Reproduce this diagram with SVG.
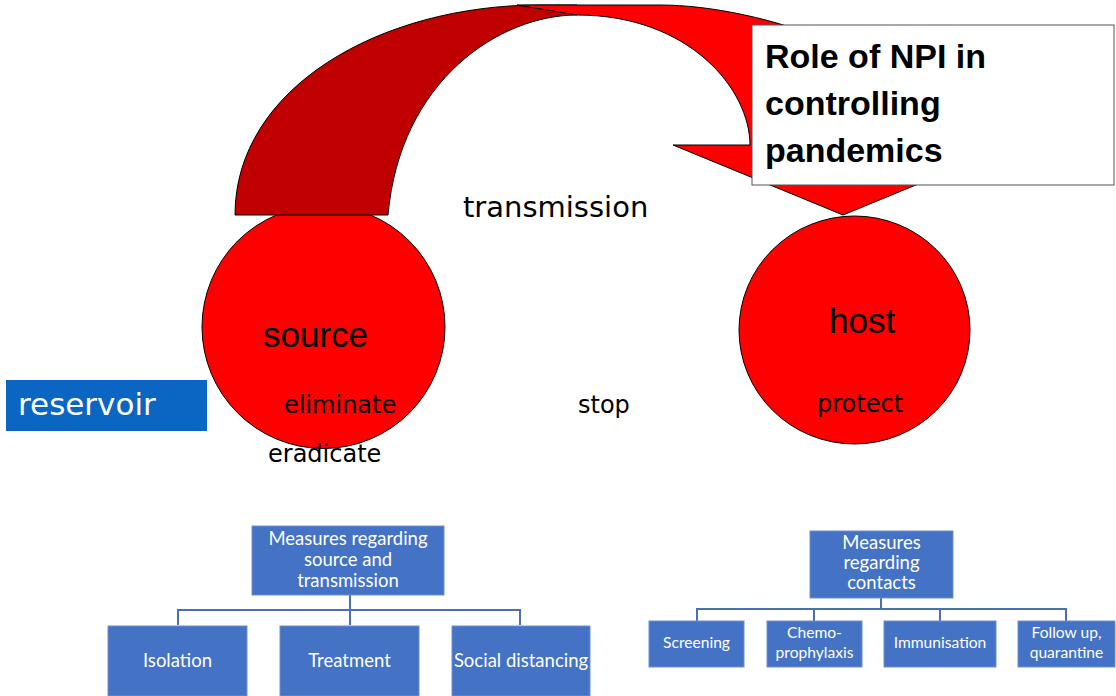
<svg xmlns="http://www.w3.org/2000/svg" width="1116" height="696" viewBox="0 0 1116 696">
<style>
.circ{fill:#FF0000;stroke:#000;stroke-width:1}
.comic{font-family:"DejaVu Sans",sans-serif;font-size:24px;fill:#000}
.big{font-family:"Liberation Sans",Arial,sans-serif;font-size:35px;fill:#000}
.box{fill:#4472C4;stroke:#6F8FCF;stroke-width:1}
.bt{font-family:Lato,"Liberation Sans",sans-serif;fill:#fff;text-anchor:middle}
.conn{fill:none;stroke:#4A6FB5;stroke-width:2}
</style>
<rect width="1116" height="696" fill="#fff"/>
<g id="source">
<circle class="circ" cx="323.5" cy="327" r="121.5"/>
<text class="big" x="263" y="347">source</text>
</g>
<g id="host">
<ellipse class="circ" cx="854.5" cy="330" rx="115.5" ry="114"/>
<text class="big" x="829" y="333">host</text>
</g>
<g id="arrow">
<path d="M235,215 C235,88 380,5 540,5 L577,5 L577,15 C500,15 400,80 388,215 Z" fill="#C00000" stroke="#000" stroke-width="1"/>
<path d="M517,5 L660,5 C760,5 930,60 930,145 L1013,145 L843,215 L673,145 L750,145 C750,90 690,15 577,15 Z" fill="#FF0000" stroke="#000" stroke-width="1"/>
</g>
<g id="title">
<rect x="752" y="25" width="362" height="160" fill="#fff" stroke="#555" stroke-width="1"/>
<text font-family="'Liberation Sans',Arial,sans-serif" font-weight="bold" font-size="34" fill="#000">
<tspan x="765" y="68">Role of NPI in</tspan>
<tspan x="765" y="115">controlling</tspan>
<tspan x="765" y="162">pandemics</tspan>
</text>
</g>
<g id="labels">
<text class="comic" x="463" y="217" style="font-size:29px">transmission</text>
<text class="comic" x="284" y="413">eliminate</text>
<text class="comic" x="268" y="462">eradicate</text>
<text class="comic" x="578" y="413">stop</text>
<text class="comic" x="817" y="412">protect</text>
</g>
<g id="reservoir">
<rect x="6" y="380" width="201" height="51" fill="#0B66C3"/>
<text x="18" y="415" font-family="'DejaVu Sans',sans-serif" font-size="31" fill="#fff">reservoir</text>
</g>
<g id="connectors">
<path class="conn" d="M350,595 V625 M178,625 V610 H520 V625"/>
<path class="conn" d="M881,598 V609 M697,621 V609 H1066 V621 M814,609 V621 M940,609 V621"/>
</g>
<g id="m1">
<rect class="box" x="252" y="526" width="192" height="69"/>
<text class="bt" font-size="18.5"><tspan x="348" y="545">Measures regarding</tspan><tspan x="348" y="566">source and</tspan><tspan x="348" y="587">transmission</tspan></text>
</g>
<g id="isolation"><rect class="box" x="108" y="626" width="139" height="70"/><text class="bt" font-size="18.5" x="177.5" y="667">Isolation</text></g>
<g id="treatment"><rect class="box" x="280" y="626" width="139" height="70"/><text class="bt" font-size="18.5" x="349.5" y="667">Treatment</text></g>
<g id="social"><rect class="box" x="452" y="626" width="138" height="70"/><text class="bt" font-size="18.5" x="521" y="667">Social distancing</text></g>
<g id="m2">
<rect class="box" x="810" y="531" width="143" height="67"/>
<text class="bt" font-size="18.5"><tspan x="881.5" y="549">Measures</tspan><tspan x="881.5" y="569">regarding</tspan><tspan x="881.5" y="589">contacts</tspan></text>
</g>
<g id="screening"><rect class="box" x="649" y="621" width="95" height="46"/><text class="bt" font-size="15.6" x="696.5" y="648">Screening</text></g>
<g id="chemo"><rect class="box" x="767" y="621" width="95" height="46"/><text class="bt" font-size="15.6"><tspan x="814.5" y="638">Chemo-</tspan><tspan x="814.5" y="658">prophylaxis</tspan></text></g>
<g id="immunisation"><rect class="box" x="884" y="621" width="112" height="46"/><text class="bt" font-size="15.6" x="940" y="648">Immunisation</text></g>
<g id="followup"><rect class="box" x="1018" y="621" width="97" height="46"/><text class="bt" font-size="15.6"><tspan x="1066.5" y="638">Follow up,</tspan><tspan x="1066.5" y="658">quarantine</tspan></text></g>
</svg>
